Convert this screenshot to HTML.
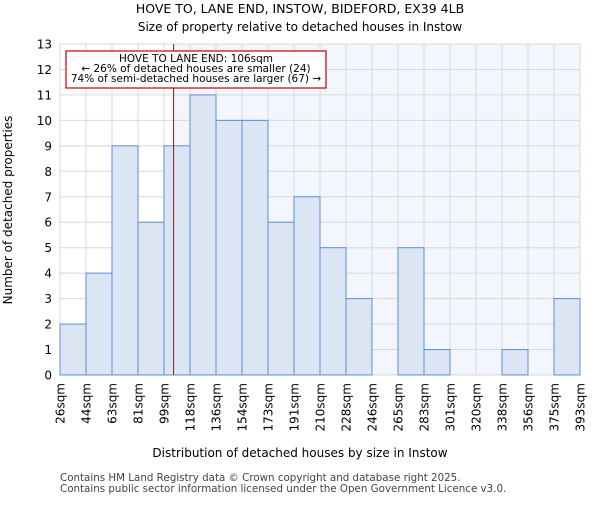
<!DOCTYPE html>
<html><head><meta charset="utf-8"><style>
body{margin:0;background:#fff;font-family:"Liberation Sans","DejaVu Sans",sans-serif}
svg text{font-family:"DejaVu Sans","Liberation Sans",sans-serif}
</style></head><body>
<svg id="c" width="600" height="500" xmlns="http://www.w3.org/2000/svg">
<text x="300" y="13" text-anchor="middle" font-size="12.5">HOVE TO, LANE END, INSTOW, BIDEFORD, EX39 4LB</text>
<text x="300" y="31" text-anchor="middle" font-size="12">Size of property relative to detached houses in Instow</text>
<text x="300" y="457" text-anchor="middle" font-size="12">Distribution of detached houses by size in Instow</text>
<text transform="translate(12,210) rotate(-90)" text-anchor="middle" font-size="12">Number of detached properties</text>
<text x="60" y="481" font-size="10.3" fill="#444">Contains HM Land Registry data © Crown copyright and database right 2025.</text>
<text x="60" y="492" font-size="10.3" fill="#444">Contains public sector information licensed under the Open Government Licence v3.0.</text>
<g id="plot"></g>
</svg>
<script>
const edges=[26,44,63,81,99,118,136,154,173,191,210,228,246,265,283,301,320,338,356,375,393];
const counts=[2,4,9,6,9,11,10,10,6,7,5,3,0,5,1,0,0,1,0,3];
const yTicks=[0,1,2,3,4,5,6,7,8,9,10,11,12,13];
const marker=106;
const L=60,R=580,T=44,B=375,ymax=13;
const NS="http://www.w3.org/2000/svg";
const g=document.getElementById('plot');
const bw=(R-L)/counts.length;
function xi(i){return L+i*bw;}
function xv(v){for(let i=0;i<edges.length-1;i++){if(v<=edges[i+1])return xi(i)+(v-edges[i])/(edges[i+1]-edges[i])*bw;}return R;}
function y(v){return B-v/ymax*(B-T);}
function mk(t,a){const e=document.createElementNS(NS,t);for(const k in a)e.setAttribute(k,a[k]);g.appendChild(e);return e;}
const mx=xv(marker);
let e=mk('rect',{x:mx,y:T,width:R-mx,height:B-T,fill:'#f3f6fc'});


yTicks.forEach(t=>{
 let l=mk('line',{x1:L,x2:R,y1:y(t),y2:y(t),stroke:'#d8d8d8','stroke-width':1});
 
 
 let tx=mk('text',{x:L-8,y:y(t)+4.5,'text-anchor':'end','font-size':12});
 tx.textContent=t;
 
 
});
edges.forEach((v,i)=>{
 let l=mk('line',{x1:xi(i),x2:xi(i),y1:T,y2:B,stroke:'#d8d8d8','stroke-width':1});
 
 
 let tx=mk('text',{transform:`translate(${xi(i)+4.5},${B+8}) rotate(-90)`,'text-anchor':'end','font-size':12});
 tx.textContent=v+'sqm';
 
 
});
counts.forEach((c,i)=>{
 if(c<=0)return;
 let r=mk('rect',{x:xi(i),y:y(c),width:bw,height:B-y(c),fill:'#dce5f4',stroke:'#5b8fd6','stroke-width':1});
 
 
});
let ml=mk('line',{x1:mx,x2:mx,y1:T,y2:B,stroke:'#8b1a1a','stroke-width':1});


let bx=mk('rect',{x:66,y:51,width:260,height:37,fill:'#fff',stroke:'#c00000','stroke-width':1.2});


["HOVE TO LANE END: 106sqm","← 26% of detached houses are smaller (24)","74% of semi-detached houses are larger (67) →"].forEach((s,i)=>{
 let t=mk('text',{x:196,y:62+i*10,'text-anchor':'middle','font-size':10.5});
 t.textContent=s;
 
 
});
</script>
</body></html>
